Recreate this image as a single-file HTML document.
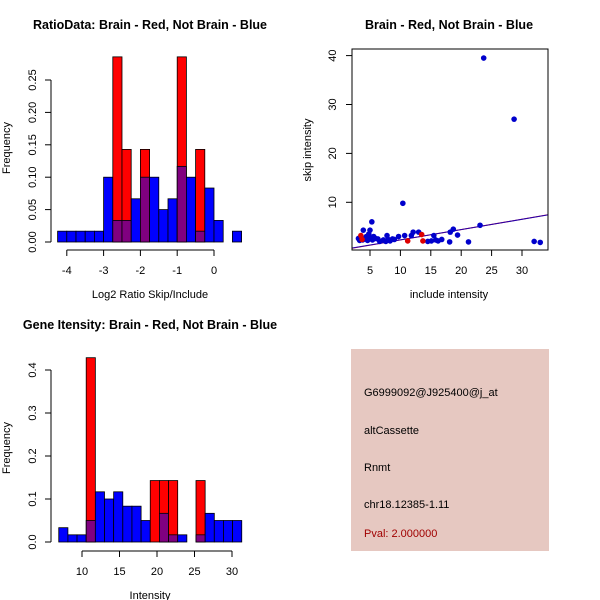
<!DOCTYPE html>
<html><head><meta charset="utf-8"><style>
body{margin:0;background:#fff}
svg{display:block;font-family:"Liberation Sans",sans-serif}
</style></head><body>
<svg id="c" width="600" height="600" viewBox="0 0 600 600" xmlns="http://www.w3.org/2000/svg">
<rect x="351" y="349" width="198" height="202" fill="#e6c8c1"/>
<g font-size="11" fill="#000">
<text x="364" y="396">G6999092@J925400@j_at</text>
<text x="364" y="434">altCassette</text>
<text x="364" y="471">Rnmt</text>
<text x="364" y="508">chr18.12385-1.11</text>
<text x="364" y="537" fill="#a00000">Pval: 2.000000</text>
</g>
</svg>
<script>
// ---- Histogram 1 data (log2 ratio) ----
const h1Start = -4.25;
const h1Width = 0.25;
const h1Blue = [0.0167,0.0167,0.0167,0.0167,0.0167,0.1,0.0333,0.0333,0.0667,0.1,0.1,0.05,0.0667,0.1167,0.1,0.0167,0.0833,0.0333,0,0.0167];
const h1Red  = [0,0,0,0,0,0,0.2857,0.1429,0,0.1429,0,0,0,0.2857,0,0.1429,0,0,0,0];
const h1XTicks = [-4,-3,-2,-1,0];
const h1YTicks = [0,0.05,0.10,0.15,0.20,0.25];
const h1YLabels = ["0.00","0.05","0.10","0.15","0.20","0.25"];
// ---- Histogram 2 data (intensity) ----
const h2Start = 6.9;
const h2Width = 1.22;
const h2Blue = [0.0333,0.0167,0.0167,0.05,0.1167,0.1,0.1167,0.0833,0.0833,0.05,0,0.0667,0.0167,0.0167,0,0.0167,0.0667,0.05,0.05,0.05];
const h2Red  = [0,0,0,0.4286,0,0,0,0,0,0,0.1429,0.1429,0.1429,0,0,0.1429,0,0,0,0];
const h2XTicks = [10,15,20,25,30];
const h2YTicks = [0,0.1,0.2,0.3,0.4];
const h2YLabels = ["0.0","0.1","0.2","0.3","0.4"];
// ---- Scatter data ----
const blueX = [3.1,3.3,3.5,3.8,3.9,4.2,4.4,4.6,4.8,5.0,5.1,5.3,5.4,5.6,5.9,6.3,6.6,7.2,7.6,7.8,8.0,8.3,8.7,9.0,9.7,10.4,10.7,11.8,12.1,13.0,14.5,15.1,15.5,15.8,16.2,16.8,18.1,18.2,18.7,19.4,21.2,23.1,23.7,28.7,32.0,33.0];
const blueY = [2.6,2.2,2.8,2.3,4.3,2.5,3.0,2.2,3.5,4.3,2.7,6.0,2.3,3.0,2.6,2.5,2.0,2.3,2.0,3.2,2.4,2.1,2.5,2.4,3.0,9.8,3.2,3.2,3.9,3.9,2.0,2.1,3.2,2.3,2.1,2.4,1.9,3.9,4.5,3.3,1.9,5.3,39.5,27.0,2.0,1.8];
const redX = [3.5,3.7,11.2,13.5,13.7];
const redY = [3.2,2.4,2.1,3.4,2.1];
const fitBlue = [0.22,0.21];   // intercept, slope
const fitRed = [0.18,0.212];
const scXTicks = [5,10,15,20,25,30];
const scYTicks = [10,20,30,40];

const svg = document.getElementById('c');
const NS = 'http://www.w3.org/2000/svg';
function mk(tag, attrs, parent){
  const e = document.createElementNS(NS, tag);
  for (const k in attrs) e.setAttribute(k, attrs[k]);
  (parent||svg).appendChild(e);
  return e;
}
function txt(x,y,s,size,opts,parent){
  const t = mk('text',{x:x,y:y,'font-size':size,'text-anchor':'middle'},parent);
  if (opts && opts.bold) t.setAttribute('font-weight','bold');
  if (opts && opts.rot) t.setAttribute('transform','rotate(-90 '+x+' '+y+')');
  t.textContent = s;
  return t;
}

let t;
t = txt(150,29,'RatioData: Brain - Red, Not Brain - Blue',12.5,{bold:1});


t = txt(449,29,'Brain - Red, Not Brain - Blue',12.5,{bold:1});


t = txt(150,329,'Gene Itensity: Brain - Red, Not Brain - Blue',12.5,{bold:1});



function hist(cfg){
  const g = mk('g',{});
  
  
  const sx = v => cfg.x0px + (v - cfg.x0) * cfg.xs;
  const sy = v => cfg.y0px - v * cfg.ys;
  for (let i=0;i<cfg.blue.length;i++){
    const a = cfg.start + i*cfg.width, b = a + cfg.width;
    const x1 = sx(a), x2 = sx(b);
    const r = cfg.red[i], bl = cfg.blue[i];
    if (r>0){
      const e = mk('rect',{x:x1,y:sy(r),width:x2-x1,height:sy(0)-sy(r),fill:'#ff0000',stroke:'#000','stroke-width':0.8},g);
      
      
    }
    if (bl>0){
      const e = mk('rect',{x:x1,y:sy(bl),width:x2-x1,height:sy(0)-sy(bl),fill:r>0?'#800080':'#0000ff',stroke:'#000','stroke-width':0.8},g);
      
      
    }
  }
  const yt = cfg.yTicks;
  mk('line',{x1:cfg.yAxisX,x2:cfg.yAxisX,y1:sy(yt[0]),y2:sy(yt[yt.length-1]),stroke:'#000'},g);
  yt.forEach((v,i)=>{
    mk('line',{x1:cfg.yAxisX-6,x2:cfg.yAxisX,y1:sy(v),y2:sy(v),stroke:'#000'},g);
    txt(cfg.yAxisX-15,sy(v),cfg.yLabels[i],11,{rot:1},g);
  });
  const xt = cfg.xTicks;
  mk('line',{x1:sx(xt[0]),x2:sx(xt[xt.length-1]),y1:cfg.xAxisY,y2:cfg.xAxisY,stroke:'#000'},g);
  xt.forEach(v=>{
    mk('line',{x1:sx(v),x2:sx(v),y1:cfg.xAxisY,y2:cfg.xAxisY+6,stroke:'#000'},g);
    txt(sx(v),cfg.xAxisY+24,String(v),11,{},g);
  });
  const xl = txt((cfg.labX),cfg.xAxisY+48,cfg.xlab,11,{},g);
  
  
  const yl = txt(10,cfg.labY,'Frequency',11,{rot:1},g);
  
  
}
hist({name:'ratio-histogram',start:h1Start,width:h1Width,blue:h1Blue,red:h1Red,x0:0,x0px:214,xs:36.8,y0px:242,ys:648,
  yAxisX:51,xAxisY:250,xTicks:h1XTicks,yTicks:h1YTicks,yLabels:h1YLabels,xlab:'Log2 Ratio Skip/Include',labX:150,labY:148});
hist({name:'intensity-histogram',start:h2Start,width:h2Width,blue:h2Blue,red:h2Red,x0:10,x0px:82,xs:7.5,y0px:542,ys:430,
  yAxisX:51,xAxisY:551,xTicks:h2XTicks,yTicks:h2YTicks,yLabels:h2YLabels,xlab:'Intensity',labX:150,labY:448});

const sg = mk('g',{});


const px = v => 370 + (v-5)*6.08;
const py = v => 202.3 - (v-10)*4.89;
const L=352,R=548,T=49,B=250;
const clip = mk('clipPath',{id:'sc'},sg);
mk('rect',{x:L,y:T,width:R-L,height:B-T},clip);
const xmin=(L-370)/6.08+5, xmax=(R-370)/6.08+5;
[[fitRed,'#cc0033'],[fitBlue,'#2200aa']].forEach(f=>{
  const e = mk('line',{x1:px(xmin),y1:py(f[0][0]+f[0][1]*xmin),x2:px(xmax),y2:py(f[0][0]+f[0][1]*xmax),stroke:f[1],'stroke-width':1,'clip-path':'url(#sc)'},sg);
  
  
});
for (let i=0;i<blueX.length;i++){
  const e = mk('circle',{cx:px(blueX[i]),cy:py(blueY[i]),r:2.8,fill:'#0000cc'},sg);
  
  
}
for (let i=0;i<redX.length;i++){
  const e = mk('circle',{cx:px(redX[i]),cy:py(redY[i]),r:2.8,fill:'#dd0000'},sg);
  
  
}
mk('rect',{x:L,y:T,width:R-L,height:B-T,fill:'none',stroke:'#000'},sg);
scXTicks.forEach(v=>{
  mk('line',{x1:px(v),x2:px(v),y1:B,y2:B+6,stroke:'#000'},sg);
  txt(px(v),B+24,String(v),11,{},sg);
});
scYTicks.forEach(v=>{
  mk('line',{x1:L-6,x2:L,y1:py(v),y2:py(v),stroke:'#000'},sg);
  txt(L-16,py(v),String(v),11,{rot:1},sg);
});
t = txt(449,298,'include intensity',11,{},sg);


t = txt(311,150,'skip intensity',11,{rot:1},sg);


</script>
</body></html>
